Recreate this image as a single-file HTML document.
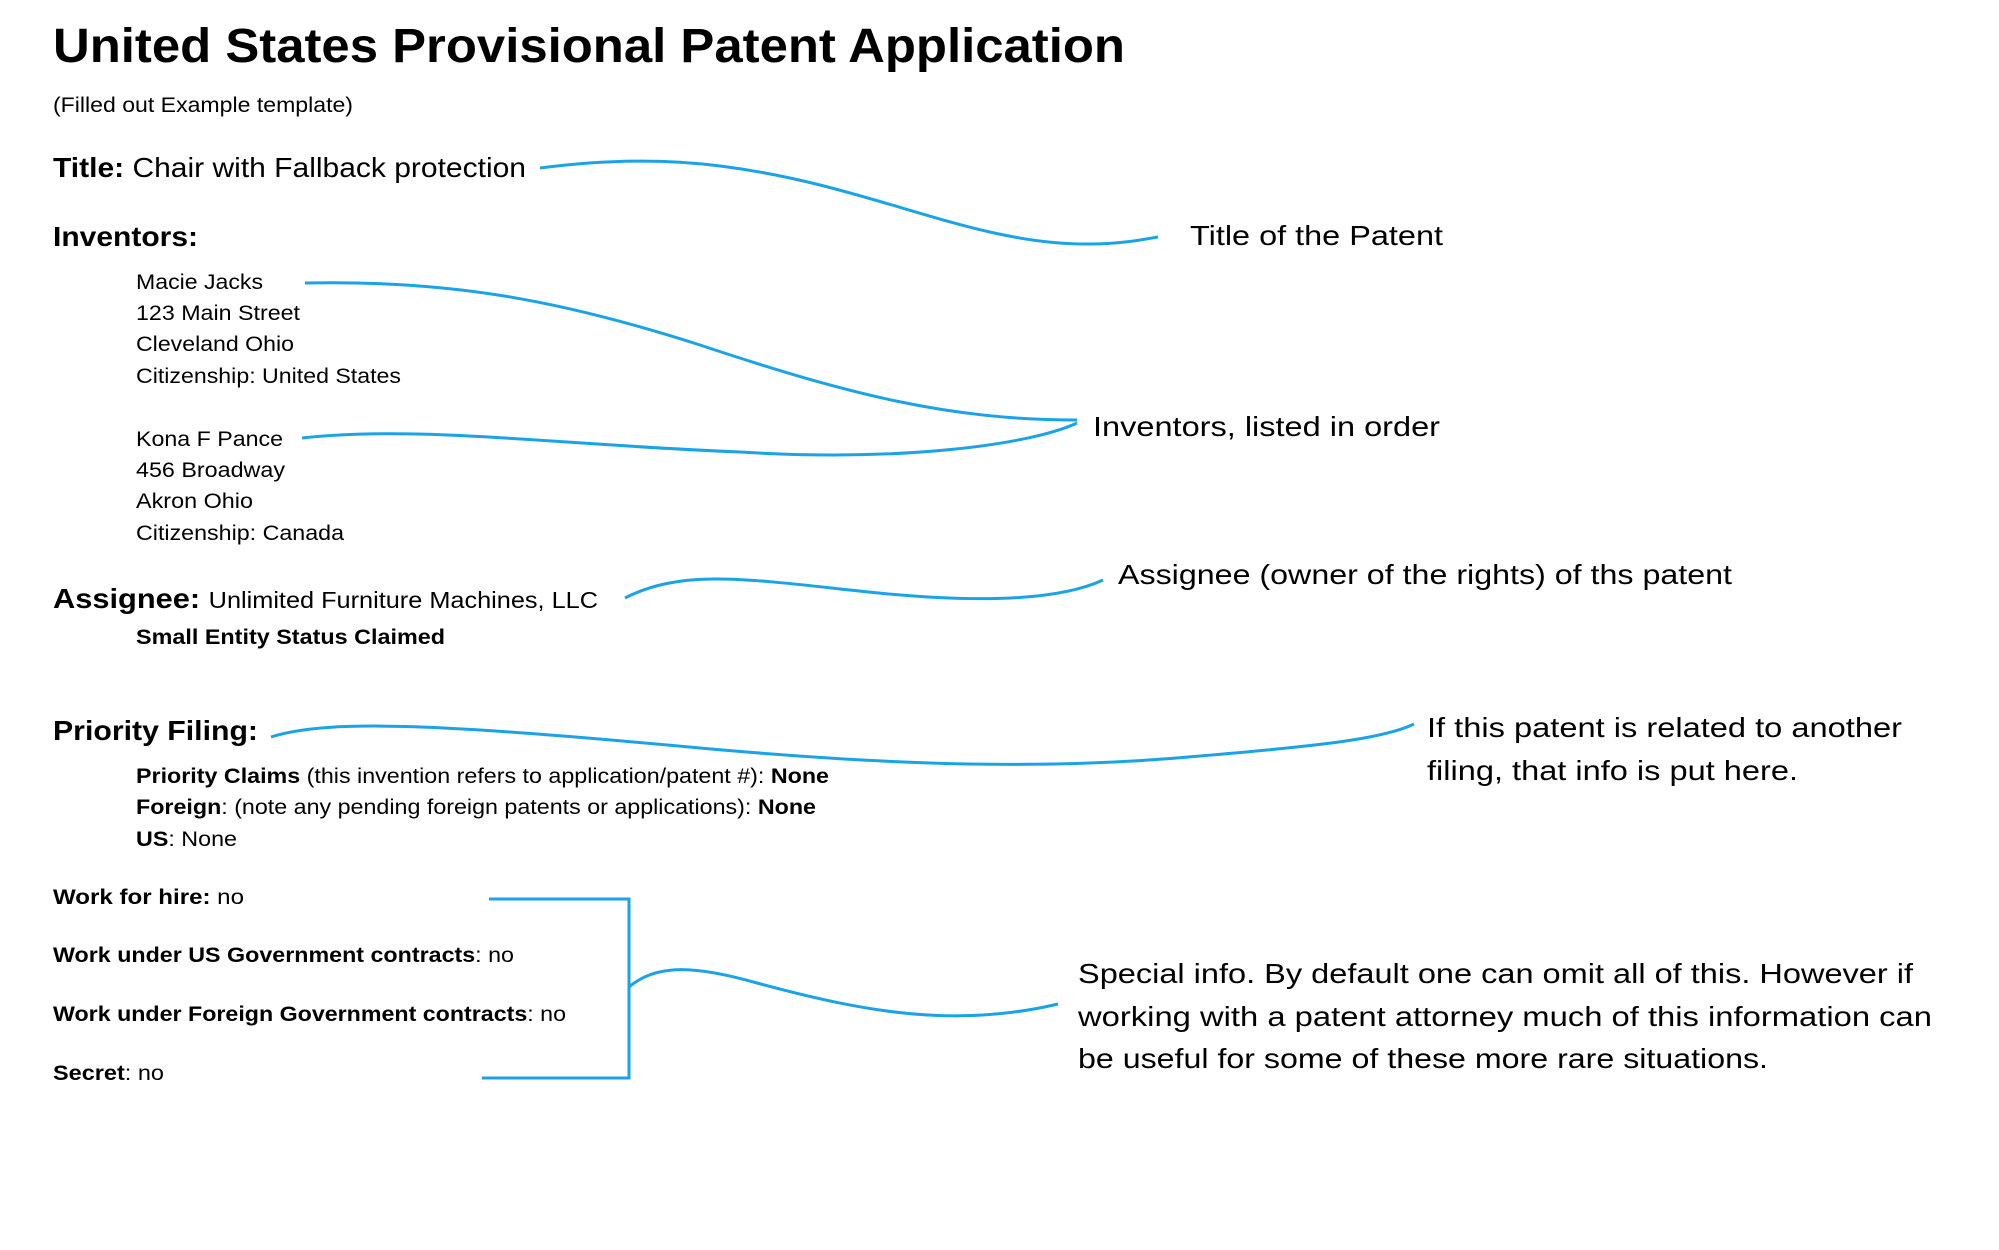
<!DOCTYPE html>
<html><head><meta charset="utf-8"><style>
html,body{margin:0;padding:0;background:#fff;width:1999px;height:1250px;overflow:hidden}
svg{display:block}
.a{font-family:"Liberation Sans",Arial,sans-serif;fill:#000}
.c{font-family:"Liberation Sans",sans-serif;fill:#000}
.b{font-weight:bold}
path,line,polyline{fill:none;stroke:#1aa3e8;stroke-width:3}
</style></head><body>
<svg width="1999" height="1250" viewBox="0 0 1999 1250" xmlns="http://www.w3.org/2000/svg">
<text class="a b" x="53" y="62" font-size="48" textLength="1072" lengthAdjust="spacingAndGlyphs">United States Provisional Patent Application</text>
<text class="a" x="53" y="112" font-size="21" textLength="300" lengthAdjust="spacingAndGlyphs">(Filled out Example template)</text>
<text class="a" x="53" y="177" font-size="28" textLength="473" lengthAdjust="spacingAndGlyphs"><tspan class="b">Title:</tspan> Chair with Fallback protection</text>
<text class="a b" x="53" y="246" font-size="28" textLength="145" lengthAdjust="spacingAndGlyphs">Inventors:</text>
<g class="a" font-size="21">
<text x="136" y="289" textLength="127" lengthAdjust="spacingAndGlyphs">Macie Jacks</text>
<text x="136" y="320" textLength="164" lengthAdjust="spacingAndGlyphs">123 Main Street</text>
<text x="136" y="351" textLength="158" lengthAdjust="spacingAndGlyphs">Cleveland Ohio</text>
<text x="136" y="383" textLength="265" lengthAdjust="spacingAndGlyphs">Citizenship: United States</text>
<text x="136" y="446" textLength="147" lengthAdjust="spacingAndGlyphs">Kona F Pance</text>
<text x="136" y="477" textLength="149" lengthAdjust="spacingAndGlyphs">456 Broadway</text>
<text x="136" y="508" textLength="117" lengthAdjust="spacingAndGlyphs">Akron Ohio</text>
<text x="136" y="540" textLength="208" lengthAdjust="spacingAndGlyphs">Citizenship: Canada</text>
</g>
<text class="a" x="53" y="608" font-size="28" textLength="545" lengthAdjust="spacingAndGlyphs"><tspan class="b">Assignee:</tspan> <tspan font-size="23">Unlimited Furniture Machines, LLC</tspan></text>
<text class="a b" x="136" y="644" font-size="21" textLength="309" lengthAdjust="spacingAndGlyphs">Small Entity Status Claimed</text>
<text class="a b" x="53" y="740" font-size="28" textLength="205" lengthAdjust="spacingAndGlyphs">Priority Filing:</text>
<g class="a" font-size="21">
<text x="136" y="783" textLength="693" lengthAdjust="spacingAndGlyphs"><tspan class="b">Priority Claims</tspan> (this invention refers to application/patent #): <tspan class="b">None</tspan></text>
<text x="136" y="814" textLength="680" lengthAdjust="spacingAndGlyphs"><tspan class="b">Foreign</tspan>: (note any pending foreign patents or applications): <tspan class="b">None</tspan></text>
<text x="136" y="846" textLength="101" lengthAdjust="spacingAndGlyphs"><tspan class="b">US</tspan>: None</text>
<text x="53" y="904" textLength="191" lengthAdjust="spacingAndGlyphs"><tspan class="b">Work for hire:</tspan>  no</text>
<text x="53" y="962" textLength="461" lengthAdjust="spacingAndGlyphs"><tspan class="b">Work under US Government contracts</tspan>: no</text>
<text x="53" y="1021" textLength="513" lengthAdjust="spacingAndGlyphs"><tspan class="b">Work under Foreign Government contracts</tspan>: no</text>
<text x="53" y="1080" textLength="111" lengthAdjust="spacingAndGlyphs"><tspan class="b">Secret</tspan>: no</text>
</g>
<g class="c" font-size="28">
<text x="1190" y="245" textLength="253" lengthAdjust="spacingAndGlyphs">Title of the Patent</text>
<text x="1093" y="436" textLength="347" lengthAdjust="spacingAndGlyphs">Inventors, listed in order</text>
<text x="1118" y="584" textLength="614" lengthAdjust="spacingAndGlyphs">Assignee (owner of the rights) of ths patent</text>
<text x="1427" y="737" textLength="475" lengthAdjust="spacingAndGlyphs">If this patent is related to another</text>
<text x="1427" y="780" textLength="371" lengthAdjust="spacingAndGlyphs">filing, that info is put here.</text>
<text x="1078" y="983" textLength="835" lengthAdjust="spacingAndGlyphs">Special info.  By default one can omit all of this.  However if</text>
<text x="1078" y="1026" textLength="854" lengthAdjust="spacingAndGlyphs">working with a patent attorney much of this information can</text>
<text x="1078" y="1068" textLength="690" lengthAdjust="spacingAndGlyphs">be useful for some of these more rare situations.</text>
</g>
<path d="M540,168 C640,155 720,160 820,185 C920,210 1000,245 1090,244 C1120,244 1140,240 1158,237"/>
<path d="M305,283 C450,280 560,300 700,345 C850,395 950,420 1077,420"/>
<path d="M302,438 C420,425 560,445 740,452 C900,462 1030,445 1077,423"/>
<path d="M625,598 C680,570 740,578 850,590 C980,605 1060,600 1103,580"/>
<path d="M271,737 C330,718 450,725 700,748 C900,766 1050,770 1200,756 C1330,745 1385,738 1414,724"/>
<polyline points="489,899 629,899 629,1078 482,1078"/>
<path d="M629,987 C657,963 697,966 757,983 C867,1013 957,1028 1058,1004"/>
</svg>
</body></html>
